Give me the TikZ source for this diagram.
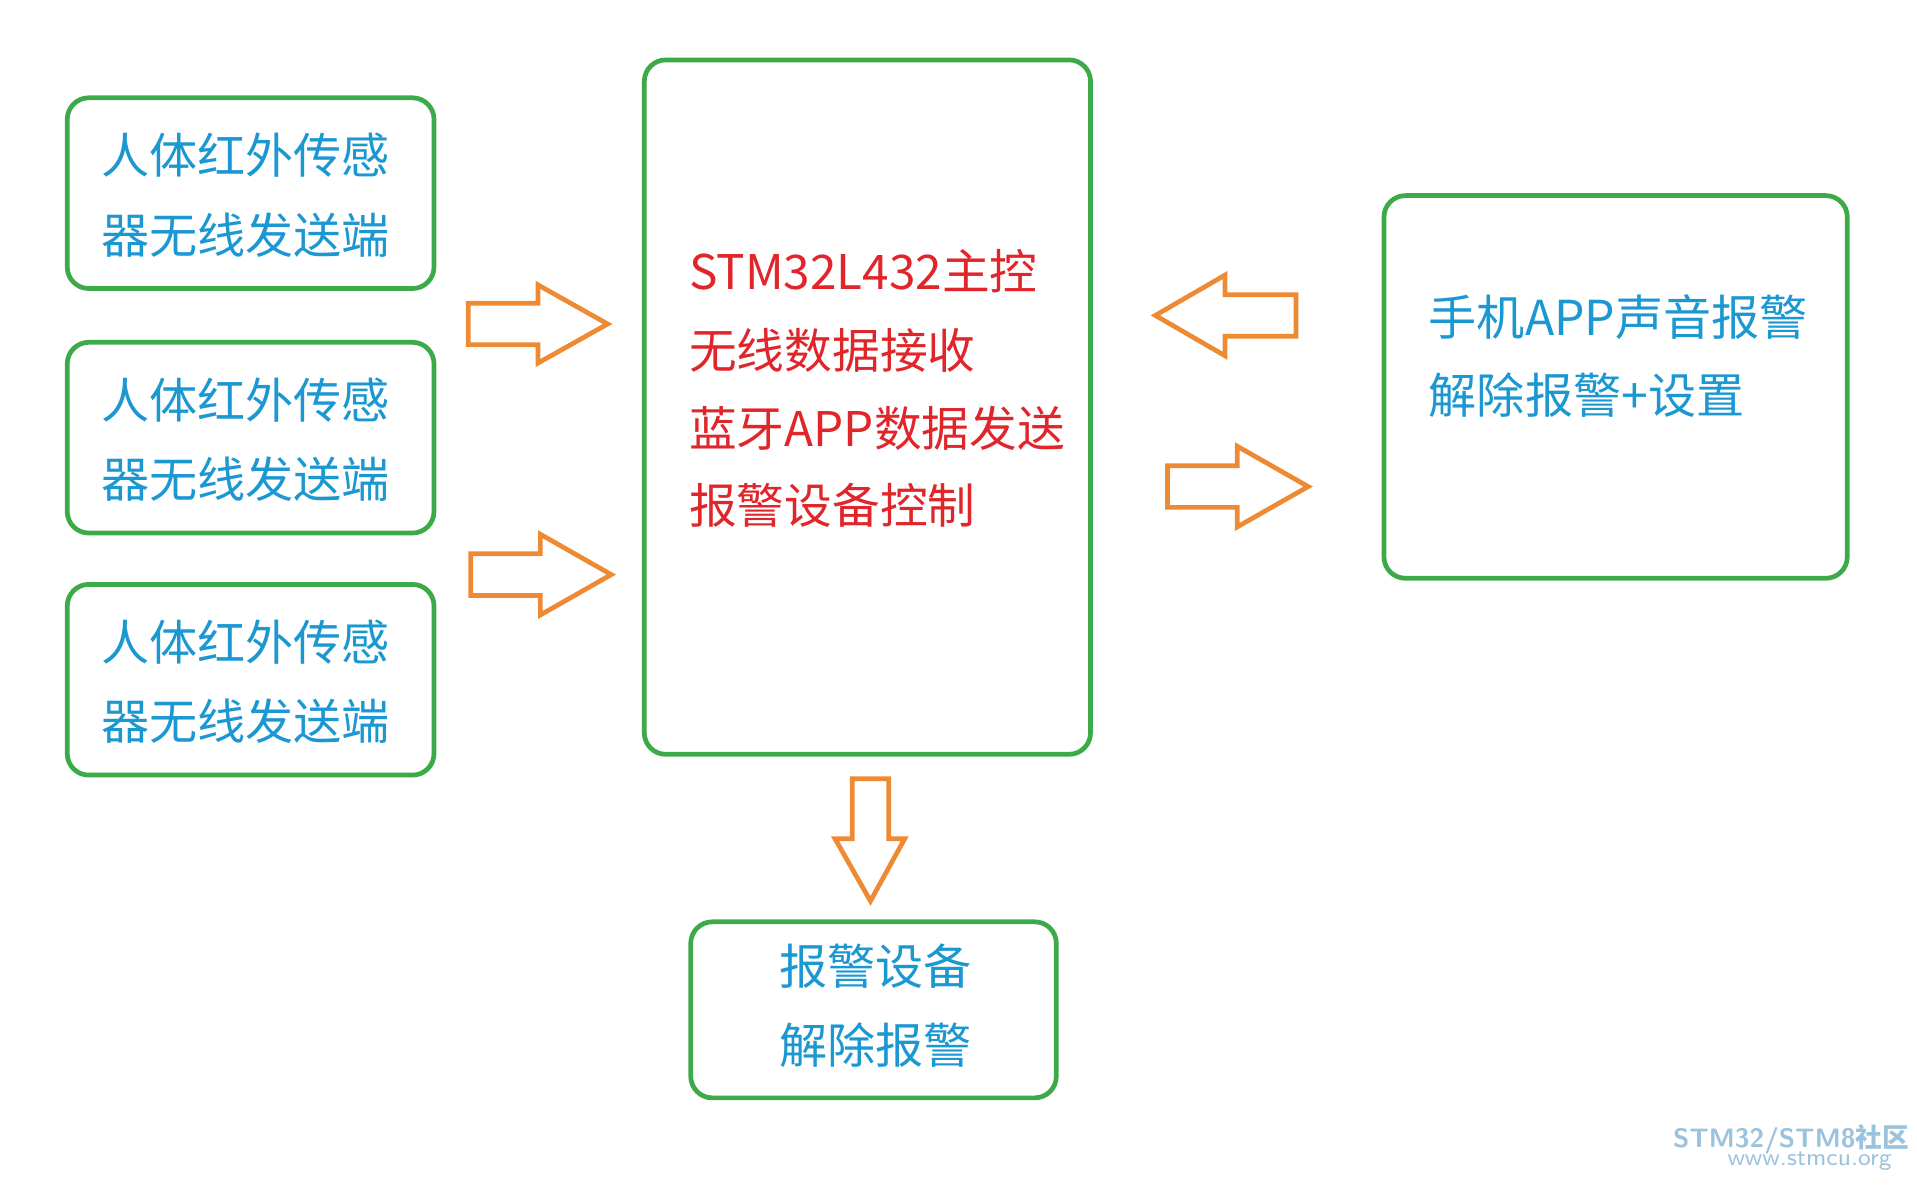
\documentclass[tikz,border=0pt]{standalone}
\usepackage{fontspec}
\newfontfamily\cjk{Noto Sans CJK SC}
\definecolor{gbox}{HTML}{3DAA4A}
\definecolor{oarr}{HTML}{EF8A34}
\definecolor{btxt}{HTML}{1B98D2}
\definecolor{rtxt}{HTML}{E0262B}
\definecolor{wm}{HTML}{9CC3DD}
\begin{document}
\begin{tikzpicture}[x=0.01cm,y=-0.01cm,
 box/.style={draw=gbox,line width=1.1pt,rounded corners=5pt},
 barr/.style={draw=oarr,line width=1.1pt,line join=miter},
 bt/.style={anchor=west,text=btxt,font=\cjk\fontsize{11.2pt}{13pt}\selectfont,inner sep=0},
 rt/.style={anchor=west,text=rtxt,font=\cjk\fontsize{11.1pt}{13pt}\selectfont,inner sep=0}]
\useasboundingbox (0,0) rectangle (1568,970);
% left boxes
\foreach \n/\t in {a/80,b/280,c/478}{
 \draw[box] (55,\t) rectangle (355,\t+156);
 \node[bt] (\n1) at (82,\t+47) {人体红外传感};
 \node[bt] (\n2) at (82,\t+112) {器无线发送端};
}
% center
\draw[box] (527,49) rectangle (892,617);
\node[rt] (m1) at (563,222) {STM32L432主控};
\node[rt] (m2) at (563,287) {无线数据接收};
\node[rt] (m3) at (563,350) {蓝牙APP数据发送};
\node[rt] (m4) at (563,413) {报警设备控制};
% right
\draw[box] (1132,160) rectangle (1511,473);
\node[bt] (r1) at (1168,259) {手机APP声音报警};
\node[bt] (r2) at (1168,323) {解除报警+设置};
% bottom
\draw[box] (565,754) rectangle (864,898);
\node[bt,anchor=center] (d1) at (716,790) {报警设备};
\node[bt,anchor=center] (d2) at (716,855) {解除报警};
% arrows
\draw[barr] (383,248) -- (440,248) -- (440,233) -- (497,265) -- (440,297) -- (440,282) -- (383,282) -- cycle;
\draw[barr] (385,453) -- (442,453) -- (442,437) -- (500,470) -- (442,503) -- (442,487) -- (385,487) -- cycle;
\draw[barr] (1060,241) -- (1002,241) -- (1002,225) -- (945,258) -- (1002,291) -- (1002,275) -- (1060,275) -- cycle;
\draw[barr] (955,381) -- (1012,381) -- (1012,365) -- (1070,398) -- (1012,431) -- (1012,415) -- (955,415) -- cycle;
\draw[barr] (697,637) -- (727,637) -- (727,686) -- (740,686) -- (712,737) -- (683,686) -- (697,686) -- cycle;
% watermark
\node[anchor=east,text=wm,font=\sffamily\bfseries\fontsize{6.2pt}{7pt}\selectfont,inner sep=0] (w1) at (1562,932) {STM32/STM8{\cjk 社区}};
\node[anchor=east,text=wm,font=\sffamily\fontsize{5.6pt}{6pt}\selectfont,inner sep=0] (w2) at (1548,950) {www.stmcu.org};
\end{tikzpicture}
\end{document}
